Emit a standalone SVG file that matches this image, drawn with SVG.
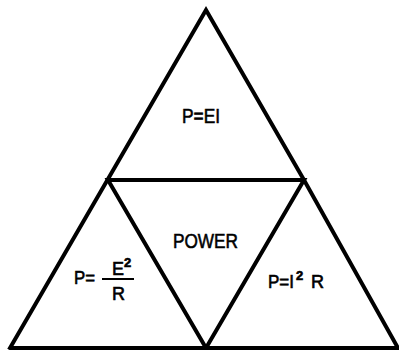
<svg xmlns="http://www.w3.org/2000/svg" width="399" height="350" viewBox="0 0 399 350">
<style>
.ln{fill:none;stroke:#000;stroke-width:4;stroke-linejoin:miter;stroke-linecap:square}
.t{font-family:"Liberation Sans",Arial,sans-serif;fill:#000;stroke:#000;stroke-width:0.6}
.big{font-size:21px}
.mid{font-size:18px}
.sup{font-size:13px;font-weight:bold}
</style>
<rect width="399" height="350" fill="#fff"/>
<g id="connectors">
<path class="ln" d="M10,348 L206,10 L304,180 L398,348"/>
<path class="ln" d="M108,180 L304,180 L206,348 Z"/>
<path class="ln" d="M10,348 L399,348" style="stroke-linecap:butt"/>
</g>
<g id="top">
<text class="t big" x="182" y="123" textLength="38" lengthAdjust="spacingAndGlyphs">P=EI</text>
</g>
<g id="power">
<text class="t big" x="173" y="248" textLength="65" lengthAdjust="spacingAndGlyphs">POWER</text>
</g>
<g id="left">
<text class="t mid"><tspan x="74" y="284" textLength="21" lengthAdjust="spacingAndGlyphs">P=</tspan><tspan x="112" y="275">E</tspan><tspan class="sup" x="124" y="267">2</tspan><tspan x="112" y="300">R</tspan></text>
<line x1="102" y1="279" x2="134" y2="279" stroke="#000" stroke-width="2"/>
</g>
<g id="right">
<text class="t mid"><tspan x="268" y="288" textLength="26" lengthAdjust="spacingAndGlyphs">P=I</tspan><tspan class="sup" x="296" y="280">2</tspan><tspan x="311" y="288">R</tspan></text>
</g>
</svg>
